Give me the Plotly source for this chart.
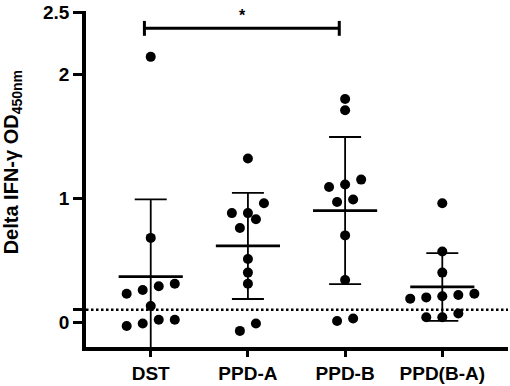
import numpy as np
import plotly.graph_objects as go

# ---------------- data ----------------
categories = ["DST", "PPD-A", "PPD-B", "PPD(B-A)"]
dst = [2.14, 0.68, 0.26, 0.29, 0.31, 0.23, 0.13, -0.03, 0.02, -0.01, 0.02]
ppd_a = [1.32, 0.96, 0.88, 0.88, 0.83, 0.76, 0.51, 0.40, 0.31, -0.01, -0.07]
ppd_b = [1.80, 1.71, 1.15, 1.11, 1.09, 0.99, 0.97, 0.70, 0.34, 0.01, 0.03]
ppd_ba = [0.96, 0.57, 0.40, 0.23, 0.19, 0.22, 0.20, 0.21, 0.07, 0.04, 0.04]
groups = [dst, ppd_a, ppd_b, ppd_ba]

cutoff = 0.1
y_tick_values = [0, 0.1, 1, 2, 2.5]
y_tick_labels = ["0", "", "1", "2", "2.5"]
sig_from, sig_to, sig_label, sig_level = 0, 2, "*", 2.37

FONT = "Liberation Sans, Arial, sans-serif"


def swarm_offsets(vals, bin_h=0.09, step=0.165):
    """Simple row-binned beeswarm: returns horizontal offsets per point."""
    vals = np.asarray(vals, dtype=float)
    order = np.argsort(vals, kind="stable")
    offs = np.zeros(len(vals))
    rows, cur, start = [], [], None
    for idx in order:
        v = vals[idx]
        if start is None or v - start >= bin_h:
            if cur:
                rows.append(cur)
            cur, start = [idx], v
        else:
            cur.append(idx)
    if cur:
        rows.append(cur)
    for row in rows:
        n = len(row)
        for k, idx in enumerate(row):
            offs[idx] = (k - (n - 1) / 2) * step
    return offs


fig = go.Figure()

# mean +/- SD
for i, vals in enumerate(groups):
    v = np.asarray(vals)
    m, sd = v.mean(), v.std(ddof=1)
    fig.add_trace(go.Scatter(
        x=[i], y=[m], mode="markers",
        marker=dict(size=1, color="rgba(0,0,0,0)"),
        error_y=dict(type="data", array=[sd], visible=True,
                     color="black", thickness=1.8, width=16),
        hoverinfo="skip", showlegend=False))
    fig.add_trace(go.Scatter(
        x=[i - 0.33, i + 0.33], y=[m, m], mode="lines",
        line=dict(color="black", width=2.6),
        hoverinfo="skip", showlegend=False))

# points
for i, vals in enumerate(groups):
    offs = swarm_offsets(vals)
    fig.add_trace(go.Scatter(
        x=i + offs, y=vals, mode="markers",
        marker=dict(size=10, color="black"),
        name=categories[i], showlegend=False))

shapes = [
    dict(type="line", xref="paper", x0=0, x1=1, yref="y", y0=cutoff, y1=cutoff,
         line=dict(color="black", width=2.5, dash="2.5px,2.5px"), layer="below"),
    dict(type="line", xref="x", yref="y", x0=sig_from - 0.065, x1=sig_to - 0.06,
         y0=sig_level, y1=sig_level, line=dict(color="black", width=3)),
    dict(type="line", xref="x", yref="y", x0=sig_from - 0.065, x1=sig_from - 0.065,
         y0=sig_level - 0.06, y1=sig_level + 0.06, line=dict(color="black", width=3)),
    dict(type="line", xref="x", yref="y", x0=sig_to - 0.06, x1=sig_to - 0.06,
         y0=sig_level - 0.06, y1=sig_level + 0.06, line=dict(color="black", width=3)),
]

annotations = [
    dict(x=(sig_from + sig_to) / 2 - 0.06, y=sig_level, xref="x", yref="y",
         text=sig_label, showarrow=False, yanchor="bottom", yshift=2,
         font=dict(family=FONT, size=16, color="black", weight="bold")),
    dict(x=-0.175, y=0.55, xref="paper", yref="paper",
         text="Delta IFN-γ OD<sub>450nm</sub>", textangle=-90, showarrow=False,
         xanchor="center", yanchor="middle",
         font=dict(family=FONT, size=20, color="black", weight="bold")),
]

fig.update_layout(
    width=510, height=386,
    margin=dict(l=86, r=2, t=9, b=39),
    paper_bgcolor="white", plot_bgcolor="white",
    shapes=shapes, annotations=annotations,
    xaxis=dict(range=[-0.666, 3.676], tickvals=list(range(len(categories))),
               ticktext=categories, showline=True, linecolor="black", linewidth=3.5,
               ticks="outside", ticklen=6, tickwidth=3, tickcolor="black",
               showgrid=False, zeroline=False,
               tickfont=dict(family=FONT, size=19, color="black", weight="bold")),
    yaxis=dict(range=[-0.2, 2.51], tickvals=y_tick_values, ticktext=y_tick_labels,
               showline=True, linecolor="black", linewidth=3.5,
               ticks="outside", ticklen=9, tickwidth=3, tickcolor="black",
               showgrid=False, zeroline=False, ticklabeloverflow="allow",
               tickfont=dict(family=FONT, size=19, color="black", weight="bold")),
)

fig.write_html("out.html", config={"displayModeBar": False},
               post_script="document.body.style.margin='0';")
